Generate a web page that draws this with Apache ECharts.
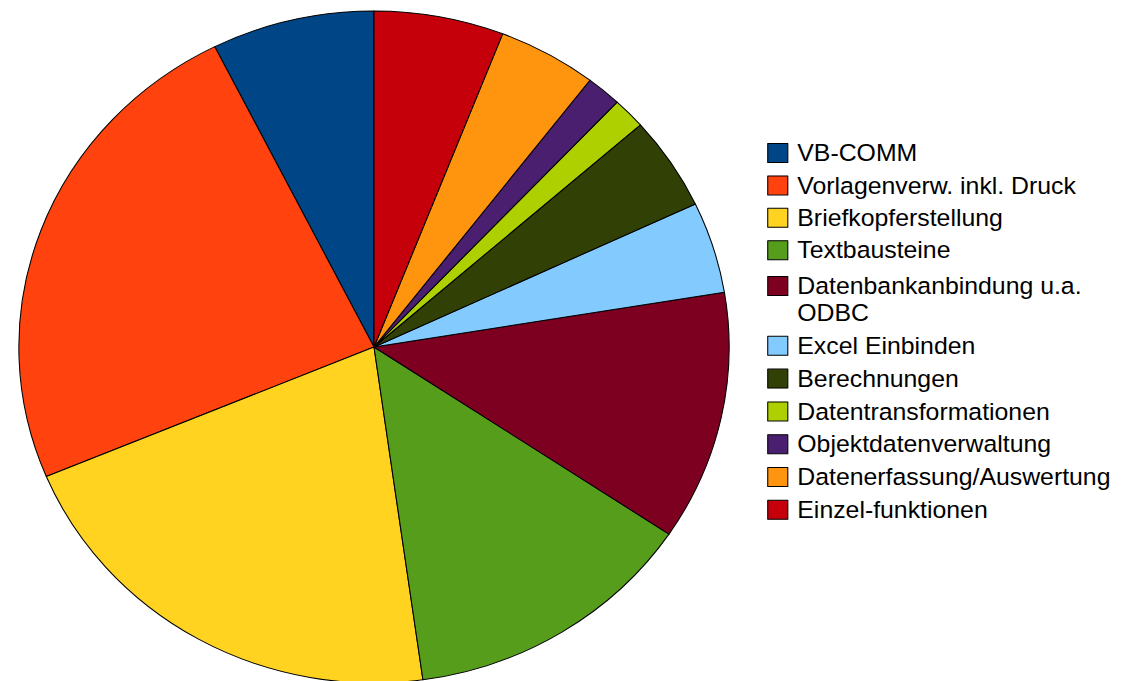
<!DOCTYPE html>
<html>
<head>
<meta charset="utf-8">
<script src="https://cdn.jsdelivr.net/npm/echarts@6/dist/echarts.min.js"></script>
<style>
    html, body { margin: 0; padding: 0; background: #fff; overflow: hidden; }
    /* the original pie is a little wider than high */
    #chart { width: 1133px; height: 681px; transform: scaleX(1.057); transform-origin: 374px 0; }
</style>
</head>
<body>
<div id="chart"></div>
<script>
var names = ['VB-COMM', 'Vorlagenverw. inkl. Druck', 'Briefkopferstellung', 'Textbausteine',
    'Datenbankanbindung u.a.\nODBC', 'Excel Einbinden', 'Berechnungen', 'Datentransformationen',
    'Objektdatenverwaltung', 'Datenerfassung/Auswertung', 'Einzel-funktionen'];
var values = [7.4, 23.9, 20.9, 13.4, 12.0, 4.4, 4.5, 1.5, 1.6, 4.5, 5.9];
var colors = ['#004586', '#ff420e', '#ffd320', '#579d1c', '#7e0021', '#83caff',
    '#314004', '#aecf00', '#4b1f6f', '#ff950e', '#c5000b'];

var myChart = echarts.init(document.getElementById('chart'), null, {renderer: 'svg'});

var textStyle = {
    fontFamily: 'Liberation Sans',
    fontSize: 23.5,
    lineHeight: 27,
    color: '#000',
    padding: [0, 0, 0, 4]
};

function legendBox(items, top, gap) {
    return {
        orient: 'vertical',
        left: 746,
        top: top,
        padding: 0,
        itemGap: gap,
        itemWidth: 19,
        itemHeight: 19,
        icon: 'rect',
        selectedMode: false,
        itemStyle: { borderColor: '#000', borderWidth: 1 },
        textStyle: textStyle,
        data: items,
        formatter: function (name) {
            // first line of a two line entry sits next to the box
            return name.indexOf('\n') >= 0 ? '\n' + name : name;
        }
    };
}

myChart.setOption({
    animation: false,
    color: colors,
    legend: [
        legendBox(names.slice(0, 4), 139.5, 5.4),
        legendBox(names.slice(4), 245.5, 5.8)
    ],
    series: [{
        type: 'pie',
        center: [374, 347],
        radius: 336,
        startAngle: 90,
        clockwise: false,
        silent: true,
        avoidLabelOverlap: false,
        label: { show: false },
        labelLine: { show: false },
        itemStyle: { borderColor: '#000', borderWidth: 1 },
        emphasis: { disabled: true },
        data: names.map(function (n, i) {
            return { name: n, value: values[i] };
        })
    }]
});
</script>
</body>
</html>
